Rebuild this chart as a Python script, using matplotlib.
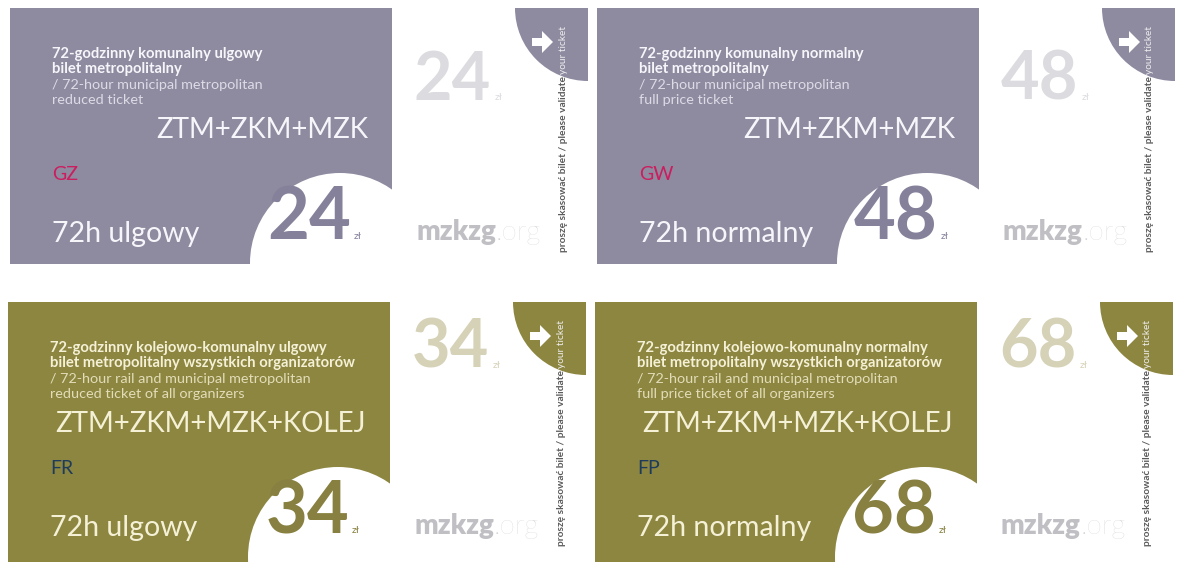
import matplotlib.pyplot as plt
from matplotlib.patches import Rectangle, Circle, Wedge, FancyArrow

# ticket contents
titles_pl = [
    ("72-godzinny komunalny ulgowy", "bilet metropolitalny"),
    ("72-godzinny komunalny normalny", "bilet metropolitalny"),
    ("72-godzinny kolejowo-komunalny ulgowy", "bilet metropolitalny wszystkich organizatorów"),
    ("72-godzinny kolejowo-komunalny normalny", "bilet metropolitalny wszystkich organizatorów"),
]
titles_en = [
    ("/ 72-hour municipal metropolitan", "reduced ticket"),
    ("/ 72-hour municipal metropolitan", "full price ticket"),
    ("/ 72-hour rail and municipal metropolitan", "reduced ticket of all organizers"),
    ("/ 72-hour rail and municipal metropolitan", "full price ticket of all organizers"),
]
zones = ["ZTM+ZKM+MZK", "ZTM+ZKM+MZK", "ZTM+ZKM+MZK+KOLEJ", "ZTM+ZKM+MZK+KOLEJ"]
codes = ["GZ", "GW", "FR", "FP"]
labels = ["72h ulgowy", "72h normalny", "72h ulgowy", "72h normalny"]
prices = [24, 48, 34, 68]

# styling per ticket
origins = [(10, 8), (597, 8), (8, 302), (595, 302)]
heights = [256, 256, 260, 260]
bg_colors = ["#8e8aa0", "#8e8aa0", "#8d8641", "#8d8641"]
price_colors = ["#85819a", "#85819a", "#878040", "#878040"]
stub_colors = ["#dcdce0", "#dcdce0", "#d6d2b8", "#d6d2b8"]
text_colors = ["#f6f6fa", "#f6f6fa", "#f5f1d6", "#f5f1d6"]
sub_colors = ["#dddbe6", "#dddbe6", "#e2ddb8", "#e2ddb8"]
code_colors = ["#cc1d5e", "#cc1d5e", "#1e3b5c", "#1e3b5c"]
stub_dy = [92, 92, 66, 66]

FONT = "Lato"

fig = plt.figure(figsize=(11.77, 5.67), dpi=100)
ax = fig.add_axes([0, 0, 1, 1])
ax.set_xlim(0, 1177)
ax.set_ylim(567, 0)
ax.axis("off")
renderer = fig.canvas.get_renderer()
inv = ax.transData.inverted()


def extent(t):
    bb = t.get_window_extent(renderer)
    x1, ytop = inv.transform((bb.x1, bb.y1))
    return x1, ytop


for i in range(4):
    x0, y0 = origins[i]
    h = heights[i]
    bg = bg_colors[i]

    rect = Rectangle((x0, y0), 382, h, facecolor=bg, edgecolor="none", zorder=1)
    ax.add_patch(rect)
    circ = Circle((x0 + 330, y0 + 255), 90, facecolor="white", edgecolor="none", zorder=2)
    ax.add_patch(circ)
    circ.set_clip_path(rect)

    # stub quarter circle with arrow and validation note
    ax.add_patch(Wedge((x0 + 578, y0), 73, 90, 180, facecolor=bg, edgecolor="none", zorder=1))
    ax.add_patch(FancyArrow(x0 + 522, y0 + 34, 21, 0, width=8, head_width=22, head_length=11,
                            length_includes_head=True, facecolor="white", edgecolor="none",
                            zorder=3))
    note = ax.text(x0 + 553, y0 + 244, "proszę skasować bilet / please validate ", rotation=90,
                   fontsize=7.3, family=FONT, weight="bold", color="#5a5a5a",
                   ha="center", va="bottom", zorder=3)
    _, ytop = extent(note)
    ax.text(x0 + 553, ytop, "your ticket", rotation=90,
            fontsize=7.3, family=FONT, color="#eeeeee", ha="center", va="bottom", zorder=3)

    # texts on the ticket body
    tx = x0 + 42
    ax.text(tx, y0 + 46, titles_pl[i][0], color=text_colors[i], fontsize=10.6, family=FONT,
            weight="bold", va="center", zorder=3)
    ax.text(tx, y0 + 61, titles_pl[i][1], color=text_colors[i], fontsize=10.6, family=FONT,
            weight="bold", va="center", zorder=3)
    ax.text(tx, y0 + 77, titles_en[i][0], color=sub_colors[i], fontsize=10.4, family=FONT,
            va="center", zorder=3)
    ax.text(tx, y0 + 92, titles_en[i][1], color=sub_colors[i], fontsize=10.4, family=FONT,
            va="center", zorder=3)
    ax.text(x0 + 358, y0 + 122, zones[i], color=text_colors[i], fontsize=20, family=FONT,
            ha="right", va="center", zorder=3)
    ax.text(tx, y0 + 166, codes[i], color=code_colors[i], fontsize=14, family=FONT,
            va="center", zorder=3)
    ax.text(tx, y0 + 226, labels[i], color=text_colors[i], fontsize=20.5, family=FONT,
            va="center", zorder=3)

    # big price in the circle
    ax.text(x0 + 341, y0 + 231, str(prices[i]), color=price_colors[i], fontsize=52, family=FONT,
            weight="bold", ha="right", va="baseline", zorder=3)
    ax.text(x0 + 344, y0 + 231, "zł", color=price_colors[i], fontsize=7.5, family=FONT,
            ha="left", va="baseline", zorder=3)

    # stub price and logo
    sp = ax.text(x0 + 404, y0 + stub_dy[i], str(prices[i]), color=stub_colors[i], fontsize=48,
                 family=FONT, weight="bold", ha="left", va="baseline", zorder=3)
    xr, _ = extent(sp)
    ax.text(xr + 3, y0 + stub_dy[i], "zł", color=stub_colors[i], fontsize=7.5,
            family=FONT, ha="left", va="baseline", zorder=3)
    lg = ax.text(x0 + 406, y0 + 232, "mzkzg", color="#bfbfc4", fontsize=20, family=FONT,
                 weight="heavy", ha="left", va="baseline", zorder=3)
    xr, _ = extent(lg)
    ax.text(xr, y0 + 232, ".org", color="#d2d2d6", fontsize=20, family=FONT,
            weight="light", ha="left", va="baseline", zorder=3)

fig.savefig("out.png", dpi=100)
